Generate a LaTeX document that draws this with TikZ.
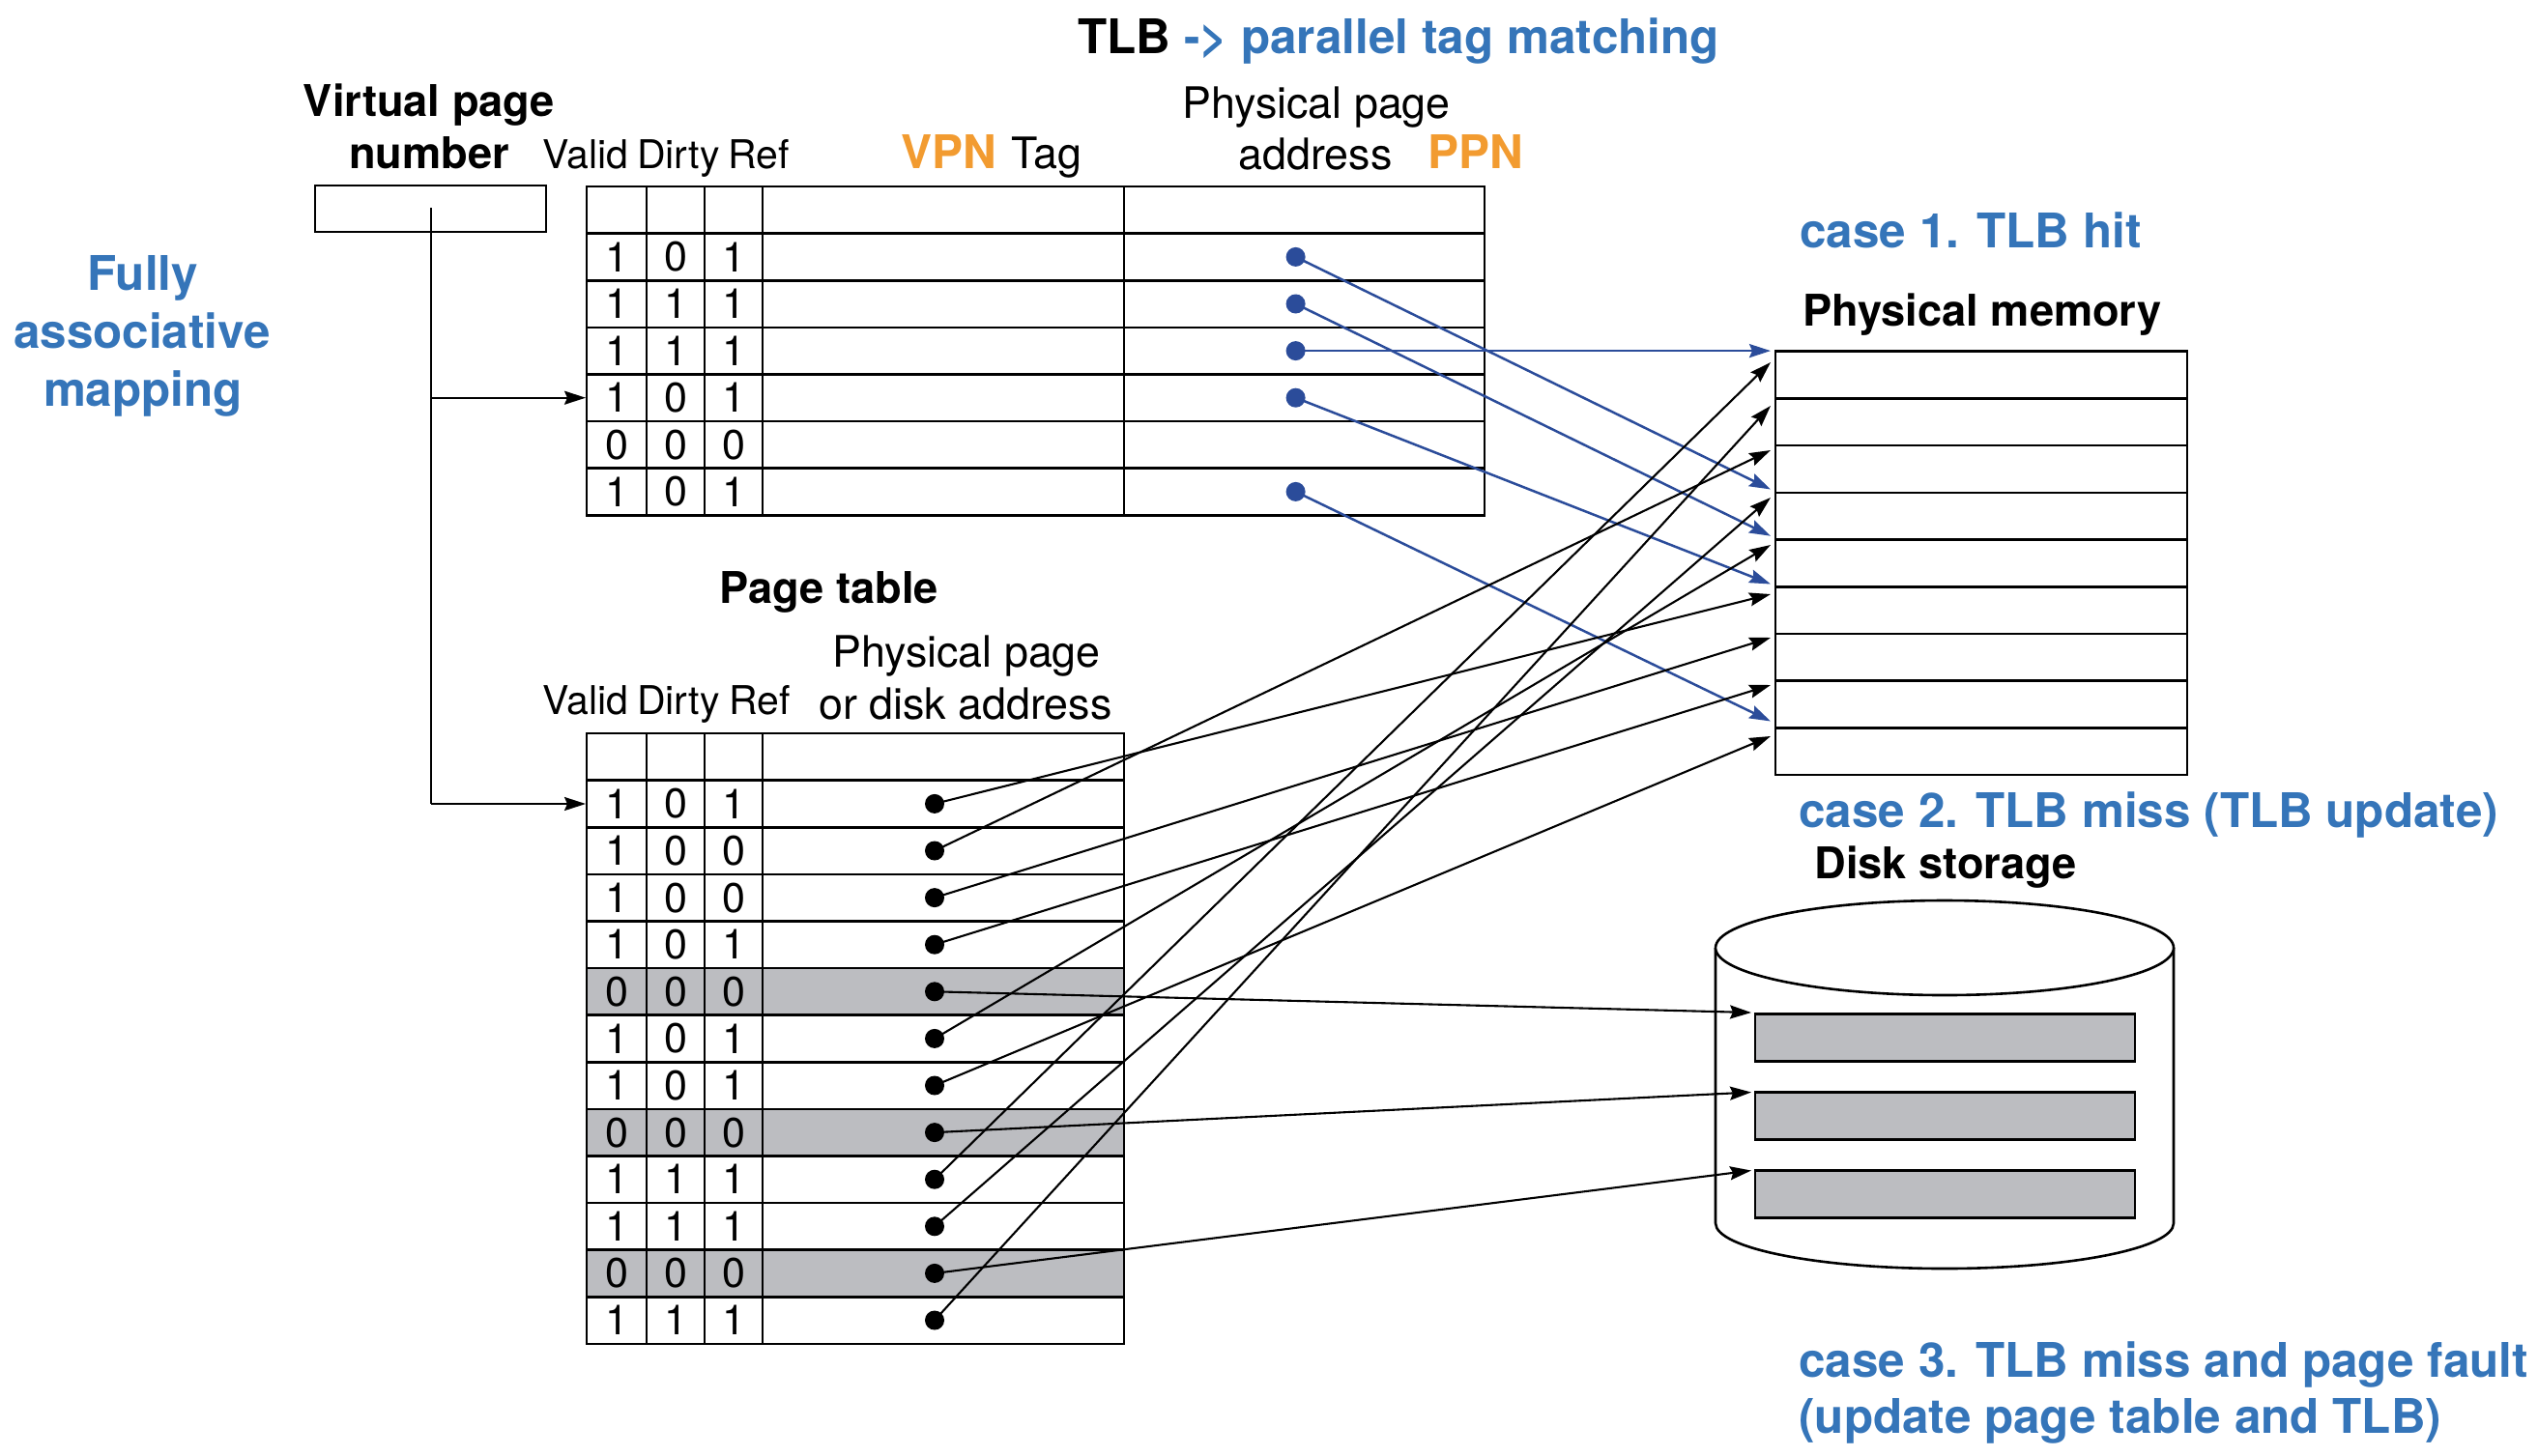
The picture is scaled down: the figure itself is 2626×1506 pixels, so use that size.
\documentclass[tikz,border=0pt]{standalone}
\usepackage{fontspec}
\setmainfont{TeX Gyre Heros}
\usetikzlibrary{arrows.meta}
\definecolor{headblue}{HTML}{3575B9}
\definecolor{lineblue}{HTML}{2B4C9A}
\definecolor{vorange}{HTML}{F29B30}
\definecolor{rowgray}{HTML}{BCBDC1}
\newcommand\FHead{\fontsize{24.7pt}{30pt}\selectfont\bfseries}
\newcommand\FBold{\fontsize{22.6pt}{27pt}\selectfont\bfseries}
\newcommand\FReg{\fontsize{22.4pt}{27pt}\selectfont}
\newcommand\FSmall{\fontsize{20.5pt}{25pt}\selectfont}
\newcommand\FDig{\fontsize{21.5pt}{25pt}\selectfont}
\newcommand\FOr{\fontsize{24pt}{29pt}\selectfont\bfseries}
\begin{document}
\begin{tikzpicture}[x=0.5pt,y=-0.5pt,
  tbl/.style={line width=1.3pt},
  lbl/.style={inner sep=0pt,anchor=base},
  lblw/.style={inner sep=0pt,anchor=base west},
  digit/.style={inner sep=0pt,anchor=center,font=\FDig},
  bdot/.style={circle,fill=black,inner sep=0pt,minimum size=10pt},
  ldot/.style={circle,fill=lineblue,inner sep=0pt,minimum size=10pt},
  tip/.style={-{Stealth[length=11pt,width=7pt,inset=1.5pt]}},
  blackarrow/.style={tip,line width=1.05pt,black},
  bluearrow/.style={tip,line width=1.25pt,lineblue}]
\useasboundingbox (0,0) rectangle (2626,1506);

% ---------- texts ----------
\node[lblw] (title) at (1115,55) {\FHead TLB \textcolor{headblue}{-> parallel tag matching}};
\node[lbl] (vpn1) at (444,120) {\FBold Virtual page};
\node[lbl] (vpn2) at (444,174) {\FBold number};
\node[lbl,text=headblue] (fa1) at (148,300.7) {\FHead Fully};
\node[lbl,text=headblue] (fa2) at (147,360) {\FHead associative};
\node[lbl,text=headblue] (fa3) at (148,420.7) {\FHead mapping};
\node[lbl] (tv) at (606,174) {\FSmall Valid};
\node[lbl] (td) at (702,174) {\FSmall Dirty};
\node[lbl] (tr) at (785,174) {\FSmall Ref};
\node[lblw,text=vorange] (vpnt) at (932,174) {\FOr VPN};
\node[lblw] (tagt) at (1046,174) {\FReg Tag};
\node[lbl] (pp1) at (1362,122) {\FReg Physical page};
\node[lbl] (pp2) at (1361,175.6) {\FReg address};
\node[lblw,text=vorange] (ppnt) at (1477,174) {\FOr PPN};
\node[lblw,text=headblue] (case1) at (1862,256) {\FHead case 1. TLB hit};
\node[lblw] (pmem) at (1865,337) {\FBold Physical memory};
\node[lbl] (ptab) at (857.5,624.5) {\FBold Page table};
\node[lbl] (ptp1) at (1000,690) {\FReg Physical page};
\node[lbl] (ptp2) at (999,744.7) {\FReg or disk address};
\node[lbl] (pv) at (606,739.5) {\FSmall Valid};
\node[lbl] (pd) at (702,739.5) {\FSmall Dirty};
\node[lbl] (pr) at (786,739.5) {\FSmall Ref};
\node[lblw,text=headblue] (case2) at (1861,856.4) {\FHead case 2. TLB miss (TLB update)};
\node[lblw] (disk) at (1877,909.6) {\FBold Disk storage};
\node[lblw,text=headblue] (case3a) at (1861,1425.8) {\FHead case 3. TLB miss and page fault};
\node[lblw,text=headblue] (case3b) at (1861,1483.7) {\FHead (update page table and TLB)};

% ---------- virtual page number box ----------
\draw[tbl] (326,192) rectangle (565,240);

% ---------- TLB ----------
\draw[tbl] (607,193) rectangle (1536,533.2);
\foreach \x in {669,729,789,1163} \draw[tbl] (\x,193) -- (\x,533.2);
\foreach \k in {1,...,6} \draw[tbl] (607,{193+48.6*\k}) -- (1536,{193+48.6*\k});
\foreach \r/\a/\b/\c in {1/1/0/1,2/1/1/1,3/1/1/1,4/1/0/1,5/0/0/0,6/1/0/1}{
  \node[digit] (tlb-\r-a) at (638,{193+48.6*\r+24.3}) {\a};
  \node[digit] (tlb-\r-b) at (699,{193+48.6*\r+24.3}) {\b};
  \node[digit] (tlb-\r-c) at (759,{193+48.6*\r+24.3}) {\c};
}

% ---------- Page table ----------
\foreach \k in {5,8,11} \fill[rowgray] (607,{759+48.6*\k}) rectangle (1163,{759+48.6*(\k+1)});
\draw[tbl] (607,759) rectangle (1163,1390.8);
\foreach \x in {669,729,789} \draw[tbl] (\x,759) -- (\x,1390.8);
\foreach \k in {1,...,12} \draw[tbl] (607,{759+48.6*\k}) -- (1163,{759+48.6*\k});
\foreach \r/\a/\b/\c in {1/1/0/1,2/1/0/0,3/1/0/0,4/1/0/1,5/0/0/0,6/1/0/1,7/1/0/1,8/0/0/0,9/1/1/1,10/1/1/1,11/0/0/0,12/1/1/1}{
  \node[digit] (pt-\r-a) at (638,{759+48.6*\r+24.3}) {\a};
  \node[digit] (pt-\r-b) at (699,{759+48.6*\r+24.3}) {\b};
  \node[digit] (pt-\r-c) at (759,{759+48.6*\r+24.3}) {\c};
}

% ---------- Physical memory ----------
\draw[tbl] (1837,363.7) rectangle (2263,802);
\foreach \k in {1,...,8} \draw[tbl] (1837,{363.7+48.7*\k}) -- (2263,{363.7+48.7*\k});

% ---------- Disk ----------
\draw[line width=1.3pt,fill=white] (1775,981) -- (1775,1266)
   arc[start angle=180,end angle=0,x radius=237,y radius=47] -- (2249,981);
\draw[line width=1.3pt,fill=white] (2012,981) ellipse [x radius=237,y radius=49];
\foreach \t in {1049.4,1130.5,1211.5} \draw[line width=1.3pt,fill=rowgray] (1816,\t) rectangle (2209,{\t+49});

% ---------- VPN lines ----------
\coordinate (vstart) at (446,215);
\coordinate (vmid) at (446,411.7);
\coordinate (vend) at (446,832);
\coordinate (tlbin) at (606,411.7);
\coordinate (ptin) at (606,832);
\draw[line width=1.05pt] (vstart) -- (vend);
\draw[blackarrow] (vmid) -- (tlbin);
\draw[blackarrow] (vend) -- (ptin);

% ---------- TLB dots & blue arrows ----------
\node[ldot] (tdot1) at (1340.6,265.9) {};
\node[ldot] (tdot2) at (1340.6,314.5) {};
\node[ldot] (tdot3) at (1340.6,363.1) {};
\node[ldot] (tdot4) at (1340.6,411.7) {};
\node[ldot] (tdot6) at (1340.6,508.9) {};
\coordinate (bm1) at (1832,506.5);
\coordinate (bm2) at (1832,554.7);
\coordinate (bm3) at (1832,363.1);
\coordinate (bm4) at (1832,604.5);
\coordinate (bm6) at (1832,746.5);
\foreach \i in {1,2,3,4,6} \draw[bluearrow] (tdot\i.center) -- (bm\i);

% ---------- Page table dots & black arrows ----------
\foreach \r in {1,...,12} \node[bdot] (pdot\r) at (967,{759+48.6*\r+24.3}) {};
\coordinate (km1) at (1832,615);
\coordinate (km2) at (1832,466);
\coordinate (km3) at (1832,660);
\coordinate (km4) at (1832,709);
\coordinate (km6) at (1832,564);
\coordinate (km7) at (1832,762);
\coordinate (km9) at (1832,375);
\coordinate (km10) at (1832,515);
\coordinate (km12) at (1832,420);
\coordinate (km5) at (1812,1048);
\coordinate (km8) at (1812,1130.5);
\coordinate (km11) at (1812,1211.5);
\foreach \r in {1,...,12} \draw[blackarrow] (pdot\r.center) -- (km\r);
\end{tikzpicture}
\end{document}
